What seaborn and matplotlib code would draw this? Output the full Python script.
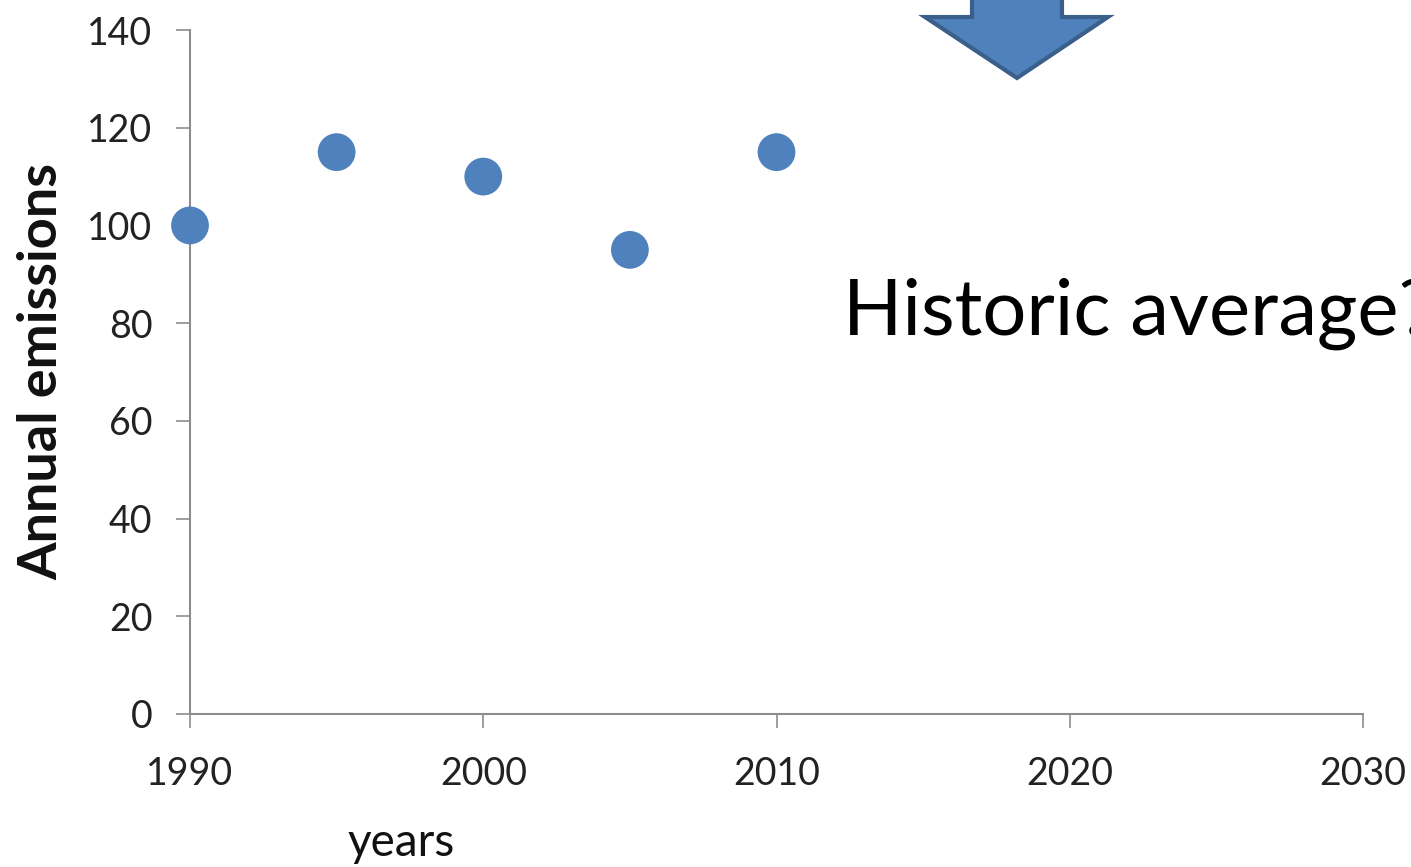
import matplotlib
matplotlib.use("Agg")
import matplotlib.pyplot as plt
import seaborn as sns
import pandas as pd
from matplotlib.patches import Polygon

years = [1990, 1995, 2000, 2005, 2010]
emissions = [100, 115, 110, 95, 115]
xticks = [1990, 2000, 2010, 2020, 2030]
yticks = [0, 20, 40, 60, 80, 100, 120, 140]

sns.set_theme(style="white")
plt.rcParams['font.family'] = ['Lato', 'DejaVu Sans']

W, H = 1411, 867
fig = plt.figure(figsize=(W / 100, H / 100), dpi=100)
ax = fig.add_axes([190 / W, 1 - 714 / H, (1363 - 190) / W, (714 - 30) / H])

df = pd.DataFrame({"year": years, "emissions": emissions})
sns.scatterplot(data=df, x="year", y="emissions", ax=ax, s=740,
                color="#4F81BD", edgecolor="none", clip_on=False, zorder=3)

ax.set_xlim(1990, 2030)
ax.set_ylim(0, 140)
ax.set_xticks(xticks)
ax.set_yticks(yticks)
for s in ["top", "right"]:
    ax.spines[s].set_visible(False)
for s in ["left", "bottom"]:
    ax.spines[s].set_color("#8C8C8C")
    ax.spines[s].set_linewidth(1.5)
ax.tick_params(axis="both", which="major", direction="out", length=10, width=1.2,
               color="#8C8C8C", labelsize=27, labelcolor="#222222",
               bottom=True, left=True)
ax.tick_params(axis="y", pad=17)
ax.tick_params(axis="x", pad=20)
ax.set_xlabel("")
ax.set_ylabel("")

fig.text(42 / W, 1 - 372 / H, "Annual emissions", rotation=90, ha="center", va="center",
         fontsize=39, fontweight="bold", color="#111111")
fig.text(401 / W, 1 - 843 / H, "years", ha="center", va="center",
         fontsize=33, color="#111111")
fig.text(843 / W, 1 - 335 / H, "Historic average?", ha="left", va="baseline",
         fontsize=56, color="#000000")

pts = [(972, -10), (1062, -10), (1062, 17), (1108, 17), (1017, 78), (925, 17), (972, 17)]
poly = Polygon([(x / W, 1 - y / H) for x, y in pts], closed=True, transform=fig.transFigure,
               facecolor="#4F81BD", edgecolor="#3A5F8B", linewidth=3, joinstyle="miter")
fig.patches.append(poly)

fig.savefig("out.png", dpi=100)
